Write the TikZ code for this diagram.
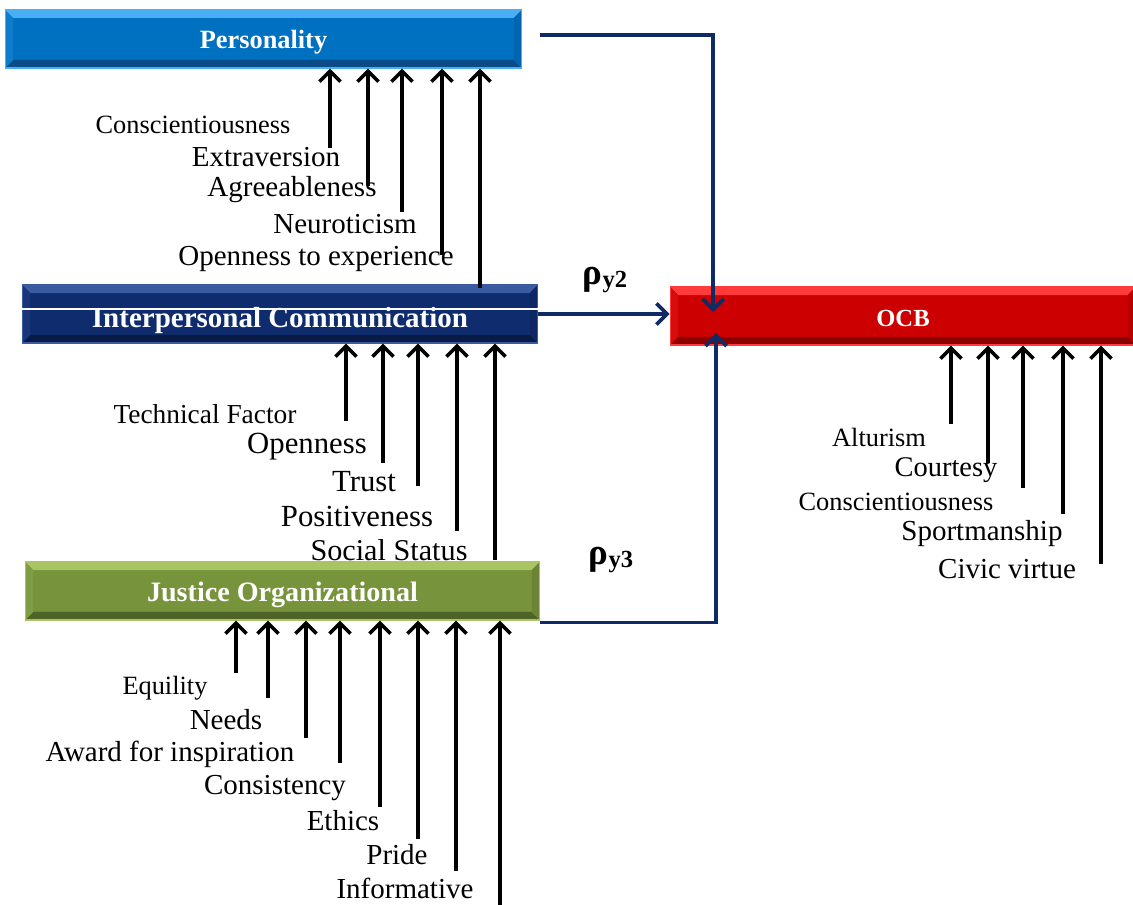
\documentclass[tikz,border=0pt]{standalone}
\usepackage{fontspec}
\setmainfont{Liberation Serif}
\usepackage{tikz}
\usetikzlibrary{arrows.meta}

\definecolor{persbase}{RGB}{0,112,192}
\definecolor{perslight}{RGB}{74,174,245}
\definecolor{persdark}{RGB}{10,76,135}
\definecolor{ipcbase}{RGB}{15,45,110}
\definecolor{ipclight}{RGB}{58,91,160}
\definecolor{ipcdark}{RGB}{8,26,69}
\definecolor{jobase}{RGB}{119,147,60}
\definecolor{jolight}{RGB}{169,197,99}
\definecolor{jodark}{RGB}{79,98,40}
\definecolor{ocbbase}{RGB}{204,0,0}
\definecolor{ocblight}{RGB}{255,59,59}
\definecolor{ocbdark}{RGB}{138,0,0}
\definecolor{linkblue}{RGB}{16,42,104}

% box text set on a lowered baseline
\newcommand{\boxtext}[2]{\raisebox{#1}[0pt][0pt]{#2}}

\begin{document}
\begin{tikzpicture}[x=0.02cm, y=-0.02cm,
  bevelbox/.style n args={3}{rectangle, fill=#1, draw=#2, line width=0.6pt, inner sep=0pt,
    minimum height=1.16cm, text=white, font=\bfseries\fontsize{15}{18}\selectfont,
    path picture={
      \path (path picture bounding box.north west) coordinate (bvA)
            (path picture bounding box.north east) coordinate (bvB)
            (path picture bounding box.south east) coordinate (bvC)
            (path picture bounding box.south west) coordinate (bvD);
      \fill[#2] (bvA) -- (bvB) -- ([shift={(-0.16cm,-0.16cm)}]bvB) -- ([shift={(0.16cm,-0.16cm)}]bvA) -- cycle;
      \fill[#3] (bvD) -- (bvC) -- ([shift={(-0.16cm,0.16cm)}]bvC) -- ([shift={(0.16cm,0.16cm)}]bvD) -- cycle;
      \fill[#1!80!#2] (bvA) -- ([shift={(0.16cm,-0.16cm)}]bvA) -- ([shift={(0.16cm,0.16cm)}]bvD) -- (bvD) -- cycle;
      \fill[#1!70!#3] (bvB) -- ([shift={(-0.16cm,-0.16cm)}]bvB) -- ([shift={(-0.16cm,0.16cm)}]bvC) -- (bvC) -- cycle;
    }},
  lbl/.style={inner sep=0pt},
  ind/.style={-{Straight Barb[length=6pt,width=12pt]}, line width=2.1pt, black},
  link/.style={-{Straight Barb[length=6pt,width=12pt]}, line width=2.1pt, draw=linkblue},
  rho/.style={inner sep=0pt, font=\bfseries\fontsize{21}{22}\selectfont}
]
\useasboundingbox (0,0) rectangle (1133,905);

% latent variables
\node[bevelbox={persbase}{perslight}{persdark}, minimum width=10.34cm] (pers) at (263.5,39)
  {\boxtext{-5.5pt}{Personality}};
\node[bevelbox={ipcbase}{ipclight}{ipcdark}, minimum width=10.32cm,
  font=\bfseries\fontsize{16.5}{19}\selectfont] (ipc) at (280,314)
  {\boxtext{-7.7pt}{Interpersonal Communication}};
\node[bevelbox={jobase}{jolight}{jodark}, minimum width=10.3cm,
  font=\bfseries\fontsize{16}{19}\selectfont] (jo) at (282.5,591)
  {\boxtext{-5.9pt}{Justice Organizational}};
\node[bevelbox={ocbbase}{ocblight}{ocbdark}, minimum width=9.32cm,
  font=\bfseries\fontsize{14}{17}\selectfont] (ocb) at (903,316) {\boxtext{-5.7pt}{OCB}};

% stray white edge on the communication box
\draw[white, line width=1pt] ([yshift=0.1cm]ipc.west) -- ([yshift=0.1cm]ipc.east) -- (ipc.north east);

% paths to OCB
\coordinate (tipA) at (713,312);
\coordinate (tipC) at (716,333);
\draw[link] ([shift={(18,-4)}]pers.east) -| (tipA);
\draw[link] (ipc.east) -- (ipc.east -| ocb.west);
\draw[link] ([yshift=-0.04cm]jo.south east) -| (tipC);
\node[rho] (r2) at (605,280) {ρ{\fontsize{14}{15}\selectfont\raisebox{-2pt}{y2}}};
\node[rho] (r3) at (611,560) {ρ{\fontsize{14}{15}\selectfont\raisebox{-2pt}{y3}}};

% personality indicators
\foreach \t/\x/\y/\s [count=\i] in {Conscientiousness/193/125/15, Extraversion/266/157/16.5,
    Agreeableness/292/190/16.5, Neuroticism/345/224/16.5, Openness to experience/316/259/16.5}
  \node[lbl, font=\fontsize{\s}{\s}\selectfont] (pl\i) at (\x,\y) {\t};
\foreach \x/\y [count=\i] in {330/148, 368/186, 402/212, 442/255, 480/288} {
  \coordinate (pc\i) at (\x,\y);
  \draw[ind] (pc\i) -- (pc\i |- pers.south);
}

% communication indicators
\foreach \t/\x/\y/\s [count=\i] in {Technical Factor/205/414/15.6, Openness/307/447/17.5,
    Trust/364/482/17.5, Positiveness/357/516/17.5, Social Status/389/550/17.2}
  \node[lbl, font=\fontsize{\s}{\s}\selectfont] (cl\i) at (\x,\y) {\t};
\foreach \x/\y [count=\i] in {346/421, 383/463, 418/486, 457/531, 495/560} {
  \coordinate (cc\i) at (\x,\y);
  \draw[ind] (cc\i) -- (cc\i |- ipc.south);
}

% justice indicators
\foreach \t/\x/\y/\s [count=\i] in {Equility/165/688/15, Needs/226/720/16.5,
    Award for inspiration/170/754/16.5, Consistency/275/788/16.5, Ethics/343/821/16.5,
    Pride/397/855/16.5, Informative/405/888/16.5}
  \node[lbl, font=\fontsize{\s}{\s}\selectfont] (jl\i) at (\x,\y) {\t};
\foreach \x/\y [count=\i] in {236/673, 268/698, 306/738, 340/763, 380/807, 418/839, 456/871, 500/905} {
  \coordinate (jc\i) at (\x,\y);
  \draw[ind] (jc\i) -- (jc\i |- jo.south);
}

% OCB indicators
\foreach \t/\x/\y/\s [count=\i] in {Alturism/879/437/15, Courtesy/946/470/16.2,
    Conscientiousness/896/502/15, Sportmanship/982/534/16.5, Civic virtue/1007/569/16.5}
  \node[lbl, font=\fontsize{\s}{\s}\selectfont] (ol\i) at (\x,\y) {\t};
\foreach \x/\y [count=\i] in {951/424, 988/463, 1023/488, 1063/514, 1101/564} {
  \coordinate (oc\i) at (\x,\y);
  \draw[ind] (oc\i) -- (oc\i |- ocb.south);
}

\end{tikzpicture}
\end{document}
